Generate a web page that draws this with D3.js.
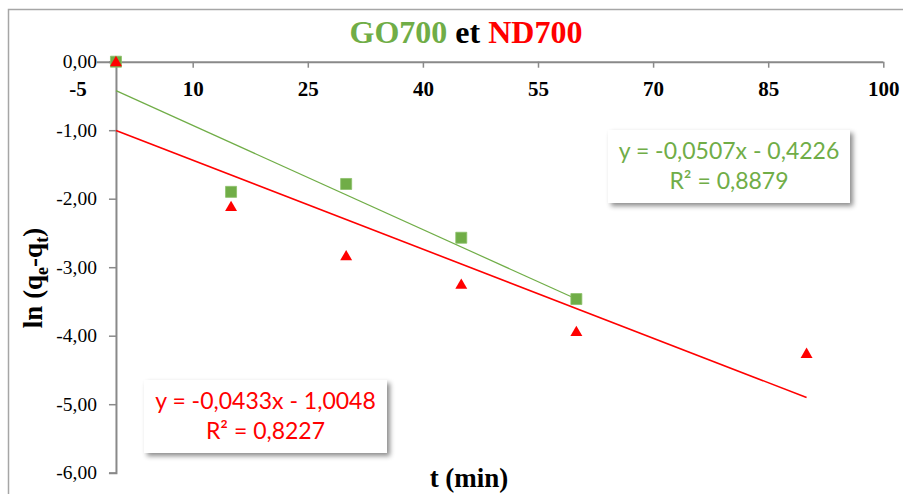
<!DOCTYPE html>
<html>
<head>
<meta charset="utf-8">
<script src="https://cdn.jsdelivr.net/npm/d3@7"></script>
<style>
  html, body { margin: 0; padding: 0; background: #fff; }
  svg { display: block; }
</style>
</head>
<body>
<svg id="chart" width="903" height="494"></svg>
<script>
// Time points (min) and ln(qe - qt) values for each material
const timesGO = [0, 15, 30, 45, 60];
const lnGO = [0, -1.90, -1.785, -2.57, -3.465];
const timesND = [0, 15, 30, 45, 60, 90];
const lnND = [0, -2.115, -2.835, -3.25, -3.94, -4.26];

// Linear trendlines (slope, intercept, R²)
const fitGO = { slope: -0.0507, intercept: -0.4226, r2: 0.8879 };
const fitND = { slope: -0.0433, intercept: -1.0048, r2: 0.8227 };

const xTicks = [-5, 10, 25, 40, 55, 70, 85, 100];
const yTicks = [0, -1, -2, -3, -4, -5, -6];

const GREEN = "#70AD47";
const RED = "#FF0000";
const AXIS = "#898989";

const svg = d3.select("#chart");
const fmtComma = (v, d) => v.toFixed(d).replace(".", ",");

// Drop shadow for equation boxes
const defs = svg.append("defs");
const f = defs.append("filter").attr("id", "shadow")
  .attr("x", "-10%").attr("y", "-20%").attr("width", "130%").attr("height", "160%");
f.append("feDropShadow").attr("dx", 3).attr("dy", 3).attr("stdDeviation", 2.5)
  .attr("flood-color", "#000").attr("flood-opacity", 0.45);

// Chart frame
svg.append("path")
  .attr("d", "M8.5,500 V9.5 H910")
  .attr("fill", "none").attr("stroke", "#a6a6a6").attr("stroke-width", 1.5);

const x = d3.scaleLinear().domain([-5, 100]).range([77.6, 883.3]);
const y = d3.scaleLinear().domain([-6, 0]).range([472.7, 61.7]);

// Title
const title = svg.append("text")
  .attr("x", 466).attr("y", 43).attr("text-anchor", "middle")
  .attr("font-family", "'Liberation Serif','Times New Roman',serif")
  .attr("font-weight", "bold").attr("font-size", 32);
title.append("tspan").attr("fill", GREEN).text("GO700");
title.append("tspan").attr("fill", "#000").text(" et ");
title.append("tspan").attr("fill", RED).text("ND700");

// X axis (crosses at y = 0)
const xAxis = svg.append("g").attr("transform", `translate(0,${y(0)})`)
  .call(d3.axisBottom(x).tickValues(xTicks).tickSizeOuter(0).tickSize(6).tickPadding(13)
    .tickFormat(d => String(d)));
xAxis.select(".domain").attr("d", `M${x(-2.5)},0.5H${x(100)}`)
  .attr("stroke", AXIS).attr("stroke-width", 2);
xAxis.selectAll(".tick line").attr("stroke", AXIS).attr("stroke-width", 1.5)
  .filter(d => d === -5).remove();
xAxis.selectAll(".tick text")
  .attr("font-family", "'Liberation Serif','Times New Roman',serif")
  .attr("font-weight", "bold").attr("font-size", 21).attr("fill", "#000");

// Y axis (crosses at x = 0)
const yAxis = svg.append("g").attr("transform", `translate(${x(0)},0)`)
  .call(d3.axisLeft(y).tickValues(yTicks).tickSizeOuter(0).tickSize(7).tickPadding(12)
    .tickFormat(d => fmtComma(d, 2)));
yAxis.select(".domain").attr("stroke", AXIS).attr("stroke-width", 2);
yAxis.selectAll(".tick line").attr("stroke", AXIS).attr("stroke-width", 1.5);
yAxis.selectAll(".tick text")
  .attr("font-family", "'Liberation Serif','Times New Roman',serif")
  .attr("font-size", 19.5).attr("fill", "#000");

// Axis titles
const yTitle = svg.append("text")
  .attr("transform", "translate(42,278) rotate(-90)")
  .attr("text-anchor", "middle")
  .attr("font-family", "'Liberation Serif','Times New Roman',serif")
  .attr("font-weight", "bold").attr("font-size", 27).attr("fill", "#000");
yTitle.append("tspan").text("ln (q");
yTitle.append("tspan").attr("font-size", 18).attr("dy", 6).text("e");
yTitle.append("tspan").attr("dy", -6).text("-q");
yTitle.append("tspan").attr("font-size", 18).attr("dy", 6).text("t");
yTitle.append("tspan").attr("dy", -6).text(")");

svg.append("text")
  .attr("x", 469).attr("y", 487).attr("text-anchor", "middle")
  .attr("font-family", "'Liberation Serif','Times New Roman',serif")
  .attr("font-weight", "bold").attr("font-size", 27).attr("fill", "#000")
  .text("t (min)");

// Trendlines over the measured time span
function trend(fit, xs, color, width) {
  const x0 = d3.min(xs), x1 = d3.max(xs);
  svg.append("line")
    .attr("x1", x(x0)).attr("y1", y(fit.intercept + fit.slope * x0))
    .attr("x2", x(x1)).attr("y2", y(fit.intercept + fit.slope * x1))
    .attr("stroke", color).attr("stroke-width", width);
}
trend(fitGO, timesGO, GREEN, 1.2);
trend(fitND, timesND, RED, 1.6);

// GO700 markers: squares
svg.append("g").selectAll("path")
  .data(timesGO.map((t, i) => [t, lnGO[i]]))
  .join("path")
  .attr("transform", d => `translate(${x(d[0])},${y(d[1])})`)
  .attr("d", d3.symbol(d3.symbolSquare, 121))
  .attr("fill", GREEN).attr("stroke", "#8cc06a").attr("stroke-width", 0.8);

// ND700 markers: triangles
svg.append("g").selectAll("path")
  .data(timesND.map((t, i) => [t, lnND[i]]))
  .join("path")
  .attr("transform", d => `translate(${x(d[0])},${y(d[1]) + 1})`)
  .attr("d", d3.symbol(d3.symbolTriangle, 62))
  .attr("fill", RED);

// Equation labels
function eqBox(fit, color, bx, by, bw, bh) {
  const g = svg.append("g");
  g.append("rect").attr("x", bx).attr("y", by).attr("width", bw).attr("height", bh)
    .attr("fill", "#fff").attr("filter", "url(#shadow)");
  const sign = fit.intercept < 0 ? "-" : "+";
  const l1 = `y = ${fmtComma(fit.slope, 4)}x ${sign} ${fmtComma(Math.abs(fit.intercept), 4)}`;
  const l2 = `R² = ${fmtComma(fit.r2, 4)}`;
  const t = g.append("text").attr("text-anchor", "middle")
    .attr("font-family", "Lato, 'Open Sans', sans-serif")
    .attr("font-size", 23).attr("fill", color);
  t.append("tspan").attr("x", bx + bw / 2).attr("y", by + 29).text(l1);
  t.append("tspan").attr("x", bx + bw / 2).attr("y", by + 59).text(l2);
}
eqBox(fitGO, GREEN, 608, 130, 242, 73);
eqBox(fitND, RED, 144, 380, 243, 73);
</script>
</body>
</html>
